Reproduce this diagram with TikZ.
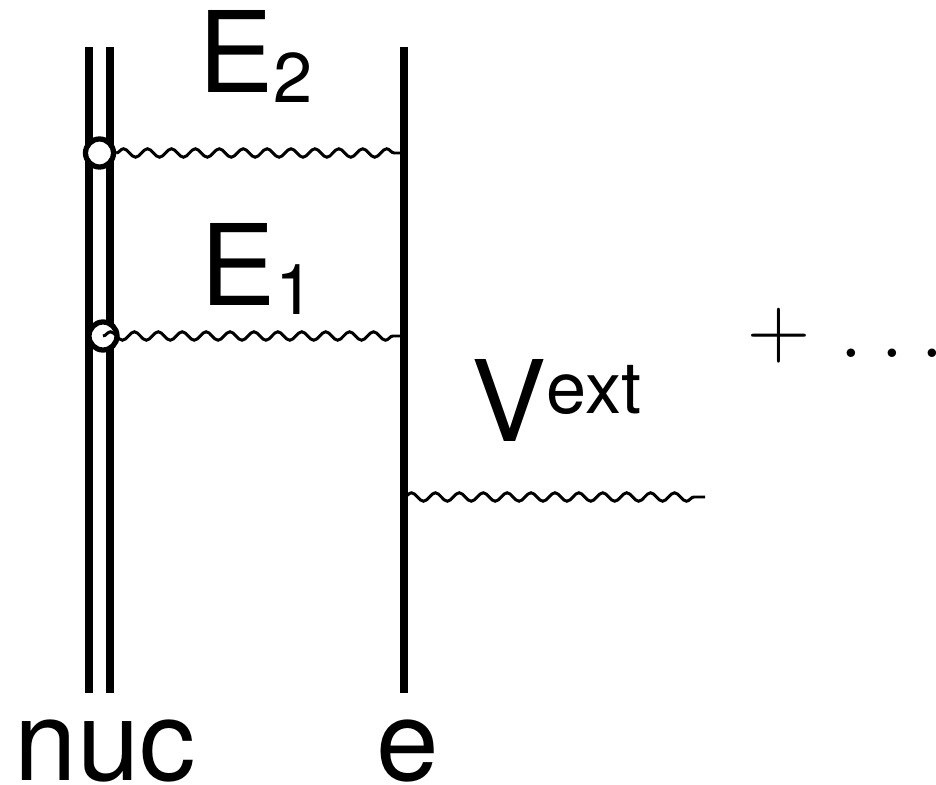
\documentclass[tikz,border=0pt]{standalone}
\usepackage{fontspec}
\setmainfont{TeX Gyre Heros}
\usetikzlibrary{decorations.pathmorphing,positioning}
\newcommand{\lowidx}[1]{\raisebox{-2.6pt}{\fontsize{20}{20}\selectfont #1}}
\newcommand{\upidx}[1]{\raisebox{8.2pt}{\fontsize{20.5}{20}\selectfont #1}}
\tikzset{
  fdline/.style={line width=2.3pt},
  fdphoton/.style={line width=0.85pt, decorate, decoration={snake, amplitude=1.2pt, segment length=6.8pt}},
  fdvertex/.style={circle, draw=black, fill=white, line width=1.5pt, inner sep=0pt, minimum size=0.28cm},
  fdlabel/.style={inner sep=0pt, font=\fontsize{32}{32}\selectfont}
}
\begin{document}
\begin{tikzpicture}[x=0.01cm,y=-0.01cm]
  \useasboundingbox (0,0) rectangle (936,785);

  % nucleus (double) and electron lines
  \coordinate (nucLtop) at (89,47);
  \coordinate (nucLbot) at (89,693);
  \coordinate (nucRtop) at (110,47);
  \coordinate (nucRbot) at (110,693);
  \coordinate (eTop) at (404,47);
  \coordinate (eBot) at (404,693);
  \draw[fdline] (nucLtop) -- (nucLbot);
  \draw[fdline] (nucRtop) -- (nucRbot);
  \draw[fdline] (eTop) -- (eBot);

  % exchanged photons
  \node[fdvertex] (vtxTwo) at (99.5,153) {};
  \node[fdvertex] (vtxOne) at (103,336) {};
  \draw[fdphoton] (vtxTwo.east) -- (eTop |- vtxTwo);
  \draw[fdphoton] (vtxOne.center) -- (eTop |- vtxOne);

  % external field
  \coordinate (vextStart) at (404,497);
  \coordinate (vextEnd) at (705,497);
  \draw[fdphoton] (vextStart) -- (vextEnd);

  \node[fdlabel, anchor=base west] (lblEtwo) at (198,93) {E\lowidx{2}};
  \node[fdlabel, anchor=base west] (lblEone) at (200,305) {E\lowidx{1}};
  \node[fdlabel, anchor=base west] (lblVext) at (471,442) {V\upidx{ext}};
  \node[fdlabel, anchor=base west] (lblNuc) at (14,780) {nuc};
  \node[fdlabel, anchor=base west] (lblE) at (376,780) {e};
  \node[inner sep=0pt, anchor=base west, font=\fontsize{26.8}{27}\selectfont] (more) at (747,357)
    {$+\mkern6mu.\mkern3.4mu.\mkern3.4mu.$};
\end{tikzpicture}
\end{document}
